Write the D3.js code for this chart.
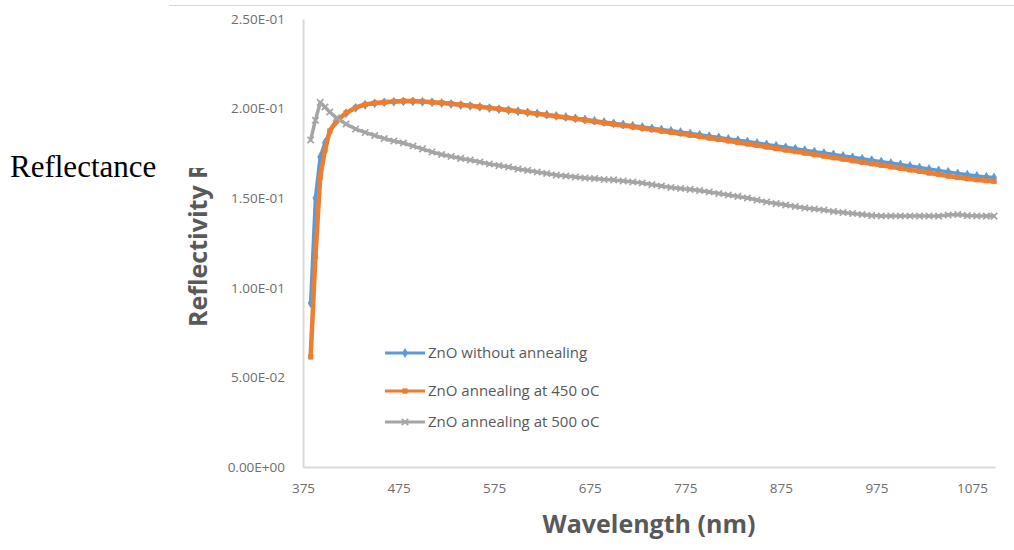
<!DOCTYPE html>
<html>
<head>
<meta charset="utf-8">
<script src="https://cdn.jsdelivr.net/npm/d3@7"></script>
<style>
  html, body { margin: 0; padding: 0; background: #fff; }
  svg { display: block; }
</style>
</head>
<body>
<svg id="chart" width="1014" height="550"></svg>
<script>
// ---- data ----
const wavelengths = [383, 388, 393, 398, 403,
  410, 420, 430, 440, 450, 460, 470, 480, 490, 500,
  510, 520, 530, 540, 550, 560, 570, 580, 590, 600,
  610, 620, 630, 640, 650, 660, 670, 680, 690, 700,
  710, 720, 730, 740, 750, 760, 770, 780, 790, 800,
  810, 820, 830, 840, 850, 860, 870, 880, 890, 900,
  910, 920, 930, 940, 950, 960, 970, 980, 990, 1000,
  1010, 1020, 1030, 1040, 1050, 1060, 1070, 1080, 1090,
  1098];

const seriesNames = ["ZnO without annealing", "ZnO annealing at 450 oC", "ZnO annealing at 500 oC"];

const noAnneal = [0.0915, 0.1501, 0.1730, 0.1810, 0.1870,
  0.1930, 0.1974, 0.2004, 0.2021, 0.2030, 0.2035, 0.2038, 0.2040, 0.2040, 0.2038,
  0.2035, 0.2031, 0.2026, 0.2020, 0.2015, 0.2009, 0.2003, 0.1997, 0.1991, 0.1985,
  0.1979, 0.1972, 0.1966, 0.1959, 0.1953, 0.1946, 0.1939, 0.1932, 0.1925, 0.1918,
  0.1911, 0.1904, 0.1897, 0.1890, 0.1883, 0.1876, 0.1869, 0.1861, 0.1854, 0.1846,
  0.1839, 0.1831, 0.1824, 0.1816, 0.1808, 0.1800, 0.1792, 0.1784, 0.1776, 0.1768,
  0.1760, 0.1752, 0.1744, 0.1736, 0.1728, 0.1720, 0.1712, 0.1704, 0.1696, 0.1688,
  0.1680, 0.1671, 0.1663, 0.1655, 0.1647, 0.1638, 0.1631, 0.1624, 0.1619,
  0.1615];

const anneal450 = [0.0614, 0.1174, 0.1618, 0.1769, 0.1875,
  0.1931, 0.1975, 0.2006, 0.2023, 0.2031, 0.2036, 0.2040, 0.2043, 0.2042, 0.2040,
  0.2036, 0.2032, 0.2027, 0.2022, 0.2016, 0.2010, 0.2004, 0.1998, 0.1992, 0.1985,
  0.1978, 0.1971, 0.1964, 0.1957, 0.1950, 0.1943, 0.1936, 0.1928, 0.1920, 0.1913,
  0.1905, 0.1898, 0.1890, 0.1883, 0.1875, 0.1868, 0.1860, 0.1852, 0.1844, 0.1836,
  0.1828, 0.1820, 0.1811, 0.1803, 0.1795, 0.1786, 0.1777, 0.1769, 0.1760, 0.1752,
  0.1743, 0.1735, 0.1726, 0.1718, 0.1709, 0.1701, 0.1692, 0.1684, 0.1675, 0.1667,
  0.1658, 0.1650, 0.1641, 0.1633, 0.1624, 0.1616, 0.1609, 0.1603, 0.1598,
  0.1594];

const anneal500 = [0.1825, 0.1935, 0.2035, 0.2009, 0.1981,
  0.1948, 0.1914, 0.1886, 0.1867, 0.1850, 0.1833, 0.1819, 0.1808, 0.1791, 0.1775,
  0.1758, 0.1744, 0.1733, 0.1722, 0.1713, 0.1702, 0.1691, 0.1682, 0.1674, 0.1663,
  0.1655, 0.1646, 0.1638, 0.1629, 0.1624, 0.1618, 0.1613, 0.1610, 0.1604, 0.1602,
  0.1596, 0.1590, 0.1585, 0.1576, 0.1568, 0.1560, 0.1554, 0.1549, 0.1543, 0.1535,
  0.1526, 0.1518, 0.1510, 0.1501, 0.1490, 0.1479, 0.1470, 0.1462, 0.1454, 0.1445,
  0.1440, 0.1434, 0.1426, 0.1420, 0.1415, 0.1409, 0.1403, 0.1401, 0.1401, 0.1401,
  0.1401, 0.1400, 0.1401, 0.1400, 0.1406, 0.1409, 0.1403, 0.1401, 0.1400,
  0.1400];

const xTickValues = [375, 475, 575, 675, 775, 875, 975, 1075];
const yTickValues = [0, 0.05, 0.10, 0.15, 0.20, 0.25];
const yTickLabels = ["0.00E+00", "5.00E-02", "1.00E-01", "1.50E-01", "2.00E-01", "2.50E-01"];

// ---- drawing ----
const svg = d3.select("#chart");
const x = d3.scaleLinear().domain([375, 1099]).range([303, 995]);
const y = d3.scaleLinear().domain([0, 0.25]).range([467, 19]);

const textGray = "#595959";
const tickGray = "#6e6e6e";
const axisGray = "#d9d9d9";

// top border line
svg.append("line").attr("x1", 169).attr("x2", 1014).attr("y1", 5.5).attr("y2", 5.5)
  .attr("stroke", "#d9d9d9").attr("stroke-width", 1);

// axes
const xAxis = d3.axisBottom(x).tickValues(xTickValues).tickSize(0).tickPadding(16)
  .tickFormat(d3.format("d"));
const gx = svg.append("g").attr("transform", `translate(0,${y(0)})`).call(xAxis);
gx.select(".domain").attr("stroke", axisGray).attr("stroke-width", 2);
gx.selectAll("text").attr("fill", tickGray).style("font-family", "'Open Sans', sans-serif")
  .style("font-size", "13.5px");

const yAxis = d3.axisLeft(y).tickValues(yTickValues).tickSize(0).tickPadding(18)
  .tickFormat((d, i) => yTickLabels[i]);
const gy = svg.append("g").attr("transform", `translate(${x(375)},0)`).call(yAxis);
gy.select(".domain").attr("stroke", axisGray).attr("stroke-width", 2);
gy.selectAll("text").attr("fill", tickGray).style("font-family", "'Open Sans', sans-serif")
  .style("font-size", "13.5px");

// axis titles
svg.append("text").attr("x", 649).attr("y", 533).attr("text-anchor", "middle")
  .attr("fill", textGray).style("font-family", "'Open Sans', sans-serif")
  .style("font-weight", "bold").style("font-size", "25px").text("Wavelength (nm)");

svg.append("clipPath").attr("id", "yclip").append("rect")
  .attr("x", 150).attr("y", 168).attr("width", 100).attr("height", 200);
svg.append("g").attr("clip-path", "url(#yclip)")
  .append("text").attr("transform", "translate(207,327) rotate(-90)")
  .attr("text-anchor", "start").attr("fill", textGray)
  .style("font-family", "'Open Sans', sans-serif").style("font-weight", "bold")
  .style("font-size", "25px").text("Reflectivity R");

svg.append("text").attr("x", 10).attr("y", 177).attr("fill", "#000")
  .style("font-family", "'Liberation Serif', 'Times New Roman', serif")
  .style("font-size", "31px").text("Reflectance");

// series
const series = [
  { name: seriesNames[0], values: noAnneal, color: "#5B9BD5", width: 3.5, lw: 3, marker: "diamond" },
  { name: seriesNames[1], values: anneal450, color: "#ED7D31", width: 4.5, lw: 3, marker: "square" },
  { name: seriesNames[2], values: anneal500, color: "#A5A5A5", width: 3.5, lw: 3, marker: "x" }
];

const line = d3.line().x(d => x(d[0])).y(d => y(d[1]));

function drawMarker(g, type, color) {
  if (type === "diamond") {
    g.append("path").attr("d", d3.symbol().type(d3.symbolDiamond).size(22)())
      .attr("fill", color).attr("stroke", color).attr("stroke-width", 0.8);
  } else if (type === "square") {
    g.append("path").attr("d", d3.symbol().type(d3.symbolSquare).size(20)())
      .attr("fill", color).attr("stroke", color).attr("stroke-width", 0.8);
  } else {
    g.append("path").attr("d", "M-3.2,-3.2L3.2,3.2M-3.2,3.2L3.2,-3.2")
      .attr("fill", "none").attr("stroke", color).attr("stroke-width", 1.7);
  }
}

series.forEach(s => {
  const pts = wavelengths.map((w, i) => [w, s.values[i]]);
  const g = svg.append("g");
  g.append("path").datum(pts).attr("d", line).attr("fill", "none")
    .attr("stroke", s.color).attr("stroke-width", s.width)
    .attr("stroke-linejoin", "round").attr("stroke-linecap", "round");
  pts.forEach(p => {
    const m = g.append("g").attr("transform", `translate(${x(p[0])},${y(p[1])})`);
    drawMarker(m, s.marker, s.color);
  });
});

// legend
const legendY = [353, 391, 422];
series.forEach((s, i) => {
  const g = svg.append("g").attr("transform", `translate(385,${legendY[i]})`);
  g.append("line").attr("x1", 0).attr("x2", 40).attr("y1", 0).attr("y2", 0)
    .attr("stroke", s.color).attr("stroke-width", s.lw);
  const m = g.append("g").attr("transform", "translate(20,0)");
  drawMarker(m, s.marker, s.color);
  g.append("text").attr("x", 43).attr("y", 0).attr("dy", "0.35em").attr("fill", textGray)
    .style("font-family", "'Open Sans', sans-serif").style("font-size", "15px")
    .text(s.name);
});
</script>
</body>
</html>
